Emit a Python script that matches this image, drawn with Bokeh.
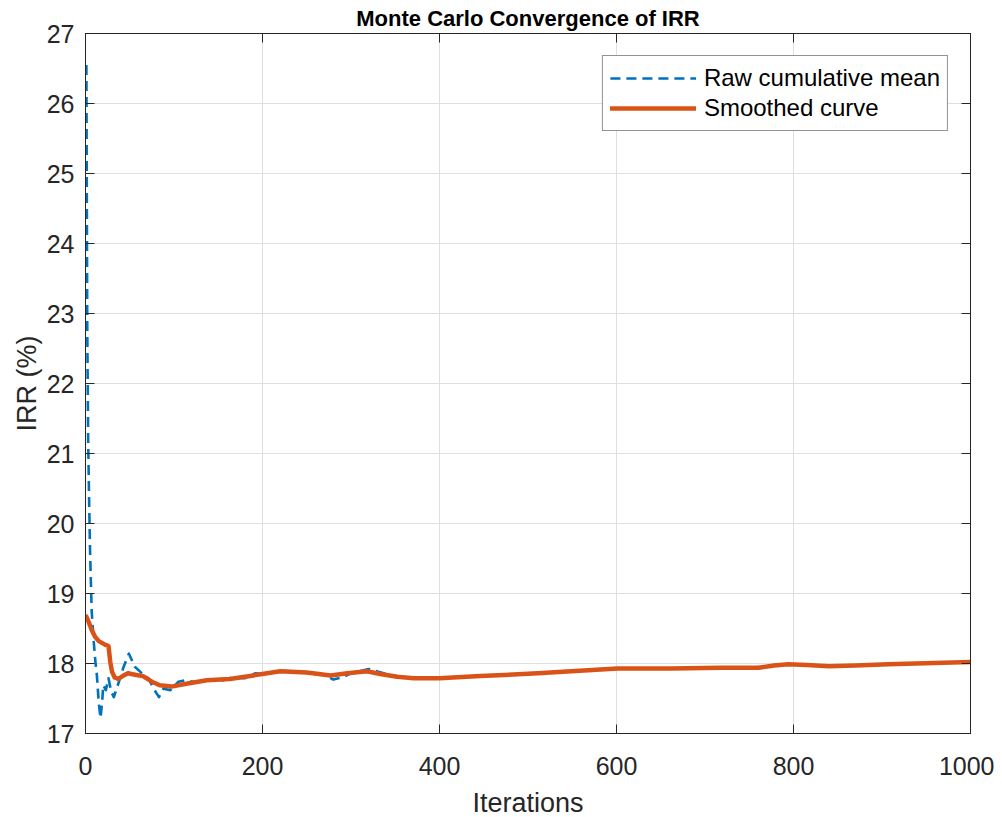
from bokeh.plotting import figure
from bokeh.models import LinearAxis, FixedTicker, Range1d, Legend, LegendItem
from bokeh.embed import file_html
from bokeh.resources import INLINE

# ---- data ----
raw_iter = [1, 2, 3, 4, 5, 6, 7, 9, 11, 13, 15, 17, 19, 20, 23, 26, 29, 32, 37, 43,
            49, 56, 62, 71, 77, 83, 88, 96, 105, 113, 125, 140, 150, 165, 180, 192,
            205, 220, 240, 260, 270, 280, 290, 300, 320, 340, 360, 380, 420, 446,
            511, 601, 662, 718, 740, 760, 778, 794, 815, 840, 870, 907, 1000]
raw_mean = [26.55, 22.8, 21.2, 20.4, 19.7, 19.2, 18.75, 18.36, 18.05, 17.81, 17.43,
            17.22, 17.48, 17.69, 17.62, 17.79, 17.60, 17.52, 17.71, 17.95, 18.14,
            17.95, 17.88, 17.79, 17.64, 17.52, 17.64, 17.62, 17.74, 17.76, 17.73,
            17.77, 17.74, 17.80, 17.79, 17.86, 17.85, 17.90, 17.88, 17.86, 17.84,
            17.77, 17.80, 17.86, 17.92, 17.85, 17.80, 17.79, 17.80, 17.82, 17.86,
            17.93, 17.93, 17.94, 17.93, 17.93, 17.97, 17.99, 17.98, 17.96, 17.97,
            17.99, 18.02]

smooth_iter = [1, 4, 7, 11, 15, 22, 26, 28, 30, 33, 37, 42, 48, 56, 65, 75, 84, 97,
               114, 137, 163, 190, 220, 250, 277, 296, 318, 333, 352, 371, 400, 446,
               511, 601, 662, 718, 740, 760, 778, 794, 815, 840, 870, 907, 1000]
smooth_val = [18.67, 18.58, 18.48, 18.38, 18.32, 18.27, 18.25, 18.02, 17.88, 17.80,
              17.78, 17.82, 17.86, 17.84, 17.82, 17.74, 17.69, 17.67, 17.71, 17.76,
              17.78, 17.83, 17.89, 17.87, 17.83, 17.86, 17.89, 17.85, 17.81, 17.79,
              17.79, 17.82, 17.86, 17.93, 17.93, 17.94, 17.94, 17.94, 17.97, 17.99,
              17.98, 17.96, 17.97, 17.99, 18.02]

x_ticks = [0, 200, 400, 600, 800, 1000]
y_ticks = [17, 18, 19, 20, 21, 22, 23, 24, 25, 26, 27]

FONT = "Liberation Sans"
AX = "#262626"

p = figure(frame_width=885, frame_height=700, output_backend="svg",
           toolbar_location=None, x_range=Range1d(0, 1000), y_range=Range1d(17, 27),
           min_border_left=0, min_border_right=24, min_border_top=0, min_border_bottom=0,
           x_axis_label="Iterations", y_axis_label="IRR (%)")
p.margin = (0, 0, 0, 8)

p.title.text = "Monte Carlo Convergence of IRR"
p.title.align = "center"
p.title.text_font = FONT
p.title.text_font_size = "22px"
p.title.text_font_style = "bold"
p.title.text_color = "black"
p.title.text_line_height = 1.0
p.title.standoff = 6

p.background_fill_color = "white"
p.border_fill_color = "white"
p.outline_line_color = AX
p.outline_line_width = 1

for ax in (p.xaxis[0], p.yaxis[0]):
    ax.axis_line_color = AX
    ax.major_tick_line_color = AX
    ax.major_tick_in = 9
    ax.major_tick_out = 0
    ax.minor_tick_line_color = None
    ax.major_label_text_font = FONT
    ax.major_label_text_font_size = "25px"
    ax.major_label_text_color = AX
    ax.axis_label_text_font = FONT
    ax.axis_label_text_font_size = "27px"
    ax.axis_label_text_font_style = "normal"
    ax.axis_label_text_color = AX

p.xaxis[0].ticker = FixedTicker(ticks=x_ticks)
p.yaxis[0].ticker = FixedTicker(ticks=y_ticks)
p.xaxis[0].major_label_standoff = 23
p.xaxis[0].axis_label_standoff = 10
p.yaxis[0].major_label_standoff = 11
p.yaxis[0].axis_label_standoff = 2

# box ticks on top and right
for loc, tk in (("above", x_ticks), ("right", y_ticks)):
    a = LinearAxis(ticker=FixedTicker(ticks=tk))
    a.axis_line_color = AX
    a.major_tick_line_color = AX
    a.major_tick_in = 9
    a.major_tick_out = 0
    a.minor_tick_line_color = None
    a.major_label_text_font_size = "0px"
    a.major_label_standoff = 0
    a.major_label_text_color = None
    p.add_layout(a, loc)

p.xgrid.ticker = FixedTicker(ticks=x_ticks)
p.ygrid.ticker = FixedTicker(ticks=y_ticks)
p.grid.grid_line_color = "#dfdfdf"
p.grid.grid_line_width = 1

r_raw = p.line(raw_iter, raw_mean, line_color="#0072BD", line_width=2.6,
               line_dash="10 6", line_join="round")
r_sm = p.line(smooth_iter, smooth_val, line_color="#D95319", line_width=4.5,
              line_join="round", line_cap="round")

legend = Legend(items=[LegendItem(label="Raw cumulative mean", renderers=[r_raw]),
                       LegendItem(label="Smoothed curve", renderers=[r_sm])],
                location="top_right")
legend.label_text_font = FONT
legend.label_text_font_size = "24px"
legend.label_text_color = "black"
legend.label_height = 30
legend.glyph_height = 30
legend.glyph_width = 86
legend.label_standoff = 8
legend.spacing = 0
legend.padding = 7
legend.margin = 22
legend.border_line_color = AX
legend.border_line_width = 1
legend.background_fill_color = "white"
legend.background_fill_alpha = 1.0
p.add_layout(legend, "center")

open("out.html", "w").write(file_html(p, INLINE))
